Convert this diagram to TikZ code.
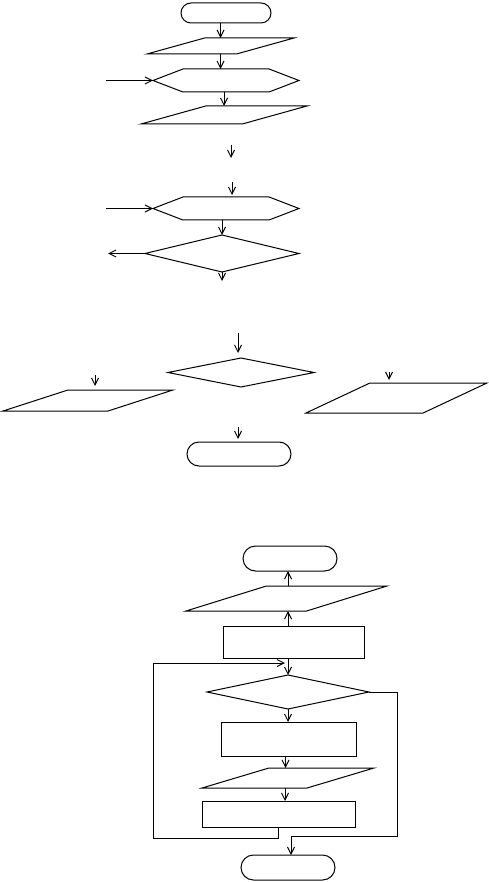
\documentclass[tikz,border=0pt]{standalone}
\usetikzlibrary{
  shapes.geometric, shapes.misc, shapes.symbols,
  arrows.meta, positioning
}
\tikzset{
  basebox/.style={draw=black,line width=1pt,inner sep=1pt,outer sep=0pt},
  termnode/.style={basebox,rounded rectangle},
  ionode/.style={basebox,trapezium,trapezium stretches=true,
    trapezium left angle=#1,trapezium right angle={180-#1}},
  hexnode/.style={basebox,signal,signal to=east and west,signal pointer angle=42},
  decnode/.style={basebox,diamond},
  procnode/.style={basebox,rectangle},
  arr/.style={-{Straight Barb[length=7pt,width=7pt]},line width=1pt}
}

\begin{document}
\begin{tikzpicture}[x=1pt,y=-1pt]
  \useasboundingbox (0,0) rectangle (489,882);

  %% First chart
  \node[termnode,minimum width=92pt,minimum height=20pt] (start1) at (226,13) {};
  \node[ionode=29,minimum width=147pt,minimum height=16pt] (read1) at (220.5,46) {};
  \node[hexnode,minimum width=146pt,minimum height=23pt] (loop1) at (226,80.5) {};
  \node[ionode=29.4,minimum width=166pt,minimum height=18pt] (write1) at (224,115) {};

  \draw[arr] (read1.north |- start1.south) -- (read1.north);
  \draw[arr] (read1.south) -- (read1.south |- loop1.north);
  \draw[arr] ([xshift=-47pt]loop1.west) -- (loop1.west);
  \draw[arr] (write1.north |- loop1.south) -- (write1.north);

  %% Second chart
  \node[hexnode,minimum width=146pt,minimum height=23pt] (loop2) at (226,208.5) {};
  \node[decnode,minimum width=154pt,minimum height=37pt] (cond1) at (222,253.5) {};

  \draw[arr] ([xshift=5pt,yshift=52pt]loop2.north) -- ([xshift=5pt,yshift=39pt]loop2.north);
  \draw[arr] ([xshift=6pt,yshift=15pt]loop2.north) -- ([xshift=6pt,yshift=2pt]loop2.north);
  \draw[arr] ([xshift=-47pt]loop2.west) -- (loop2.west);
  \draw[arr] (cond1.north |- loop2.south) -- (cond1.north);
  \draw[arr] (cond1.west) -- ++(-37,0);
  \draw[arr] (cond1.south) -- ++(0,9);

  %% Third chart
  \node[decnode,minimum width=146pt,minimum height=29pt] (cond2) at (241,372.5) {};
  \node[ionode=31.7,minimum width=170pt,minimum height=21pt] (yes2) at (88,400.5) {};
  \node[ionode=39.8,minimum width=181pt,minimum height=30pt] (no2) at (396.5,398) {};
  \node[termnode,minimum width=106pt,minimum height=24pt] (end1) at (239,454) {};

  \draw[arr] ([xshift=-3pt,yshift=25pt]cond2.north) -- ([xshift=-3pt,yshift=5pt]cond2.north);
  \draw[arr] ([xshift=7pt,yshift=15pt]yes2.north) -- ([xshift=7pt,yshift=4pt]yes2.north);
  \draw[arr] ([xshift=-7.5pt,yshift=11pt]no2.north) -- ([xshift=-7.5pt,yshift=3pt]no2.north);
  \draw[arr] ([xshift=-1pt,yshift=15pt]end1.north) -- ([xshift=-1pt,yshift=3pt]end1.north);

  %% Fourth chart
  \node[termnode,minimum width=96pt,minimum height=25pt] (start2) at (290,558.5) {};
  \node[ionode=26.6,minimum width=201pt,minimum height=25pt] (read2) at (286.5,598.5) {};
  \node[procnode,minimum width=141pt,minimum height=32pt] (init) at (293.5,642) {};
  \node[decnode,minimum width=162pt,minimum height=34pt] (cond3) at (288,692) {};
  \node[procnode,minimum width=135pt,minimum height=34pt] (body1) at (288.5,739) {};
  \node[ionode=29.7,minimum width=172pt,minimum height=20pt] (read3) at (288,778) {};
  \node[procnode,minimum width=153pt,minimum height=26pt] (body2) at (278.5,814) {};
  \node[termnode,minimum width=96pt,minimum height=25pt] (end2) at (288,867.5) {};
  \coordinate (back) at (285,663);
  \coordinate (exit) at (291,836);

  \draw[arr] (cond3.north |- read2.north) -- (cond3.north |- start2.south);
  \draw[arr] (cond3.north |- init.north) -- (cond3.north |- read2.south);
  \draw[arr] (cond3.north |- init.south) -- (cond3.north);
  \draw[arr] (cond3.south) -- (cond3.south |- body1.north);
  \draw[arr] ([xshift=-3pt]body1.south) -- ([xshift=-3pt]body1.south |- read3.north);
  \draw[arr] ([xshift=-3pt]read3.south) -- ([xshift=-3pt]read3.south |- body2.north);
  \draw[arr] (body2.south) -- ++(0,11) -| (153,663) -- (back);
  \draw[arr] (cond3.east) -| (397,836) -- (exit) -- (exit |- end2.north);
\end{tikzpicture}
\end{document}
